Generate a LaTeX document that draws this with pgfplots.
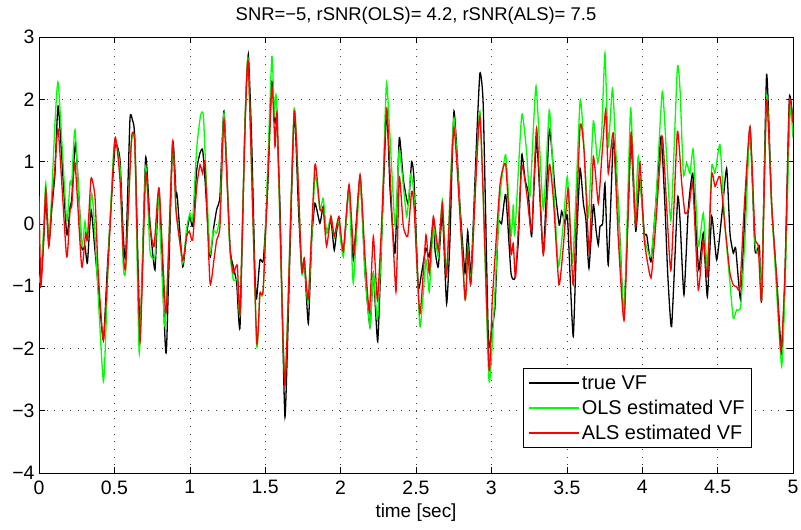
\documentclass[border=0pt]{standalone}
\usepackage{fontspec}
\setmainfont{Liberation Sans}
\usepackage{pgfplots}
\usepackage{pgfplotstable}
\pgfplotsset{compat=1.18}
\pgfplotstableread{
t v
0 -1.05
0.015 -0.85
0.03 -0.3
0.045 0.4
0.065 -0.35
0.085 0.25
0.106 0.81
0.128 1.89
0.183 -0.15
0.206 0.28
0.217 0.39
0.243 1.30
0.283 -0.36
0.305 -0.36
0.321 -0.63
0.345 0.23
0.367 -0.31
0.393 -1.01
0.427 -1.87
0.455 -0.63
0.504 1.24
0.537 1.03
0.559 -0.20
0.575 -0.53
0.603 1.67
0.619 1.67
0.636 1.35
0.670 -1.70
0.707 1.06
0.736 0.01
0.769 -0.74
0.796 0.57
0.836 -1.87
0.847 -1.92
0.886 1.30
0.909 0.47
0.917 0.44
0.953 -0.69
0.979 -0.15
1.001 0.12
1.019 -0.04
1.046 0.87
1.068 1.14
1.085 1.19
1.101 0.71
1.134 -0.53
1.156 -0.10
1.178 0.23
1.200 0.44
1.227 1.81
1.266 -0.36
1.289 -0.69
1.311 -0.95
1.333 -1.65
1.366 1.62
1.388 2.72
1.410 1.35
1.432 -0.79
1.443 -1.20
1.465 -0.58
1.488 -0.58
1.516 0.55
1.543 2.29
1.565 1.62
1.576 1.65
1.598 0.28
1.631 -3.10
1.664 -0.47
1.693 1.81
1.720 0.28
1.742 -0.74
1.759 -0.58
1.786 -1.60
1.808 -0.26
1.830 0.33
1.863 0.01
1.885 0.28
1.907 -0.15
1.936 0.06
1.958 -0.42
1.985 0.06
2.018 -0.47
2.056 0.60
2.084 -0.58
2.129 0.76
2.162 -0.79
2.195 -1.65
2.217 -0.79
2.246 -1.89
2.272 -0.26
2.305 1.83
2.328 0.55
2.361 -0.47
2.389 1.38
2.416 0.71
2.449 0.31
2.471 1.00
2.487 0.71
2.515 -1.01
2.537 -0.79
2.566 -0.39
2.588 -0.53
2.615 0.06
2.626 -0.42
2.648 -0.69
2.675 0.17
2.703 -1.28
2.725 -0.26
2.752 1.81
2.792 0.28
2.825 -0.79
2.843 -0.12
2.865 -0.79
2.902 1.35
2.924 2.42
2.946 1.89
2.980 -1.87
3.002 -1.70
3.024 -1.33
3.046 0.01
3.068 0.01
3.095 0.47
3.130 -0.79
3.156 -0.87
3.179 -0.26
3.201 1.11
3.223 0.71
3.245 0.49
3.267 -0.20
3.300 1.35
3.344 -0.47
3.384 1.51
3.422 0.55
3.450 -0.02
3.466 0.20
3.488 0.01
3.504 0.14
3.521 -0.79
3.543 -1.81
3.565 -0.26
3.588 0.89
3.610 0.33
3.627 0.06
3.647 -0.71
3.676 0.31
3.694 -0.10
3.709 -0.34
3.720 -0.04
3.738 0.01
3.753 0.65
3.775 -0.66
3.809 1.35
3.842 0.28
3.878 -1.49
3.908 0.28
3.926 1.35
3.957 -0.12
3.985 0.71
4.014 -0.15
4.030 -0.18
4.058 -0.61
4.089 0.28
4.125 1.40
4.151 0.28
4.169 -0.79
4.195 -1.65
4.235 0.41
4.251 0.06
4.277 -1.14
4.306 0.25
4.335 0.81
4.361 -0.26
4.376 -0.74
4.405 -0.15
4.432 -1.17
4.461 0.12
4.494 -0.58
4.527 0.12
4.560 0.89
4.582 -0.15
4.604 -0.47
4.620 -0.39
4.653 -1.22
4.682 0.20
4.715 1.54
4.748 -0.42
4.777 -0.36
4.792 -1.22
4.825 2.40
4.859 0.28
4.892 -0.90
4.925 -2.08
4.947 -0.79
4.976 2.02
5.000 1.62
}\trueVF
\pgfplotstableread{
t v
0 -0.95
0.015 -0.7
0.03 -0.1
0.045 0.65
0.065 -0.25
0.085 0.5
0.106 1.62
0.128 2.26
0.183 0.06
0.206 0.68
0.217 0.65
0.239 1.51
0.283 -0.34
0.305 0.04
0.321 -0.26
0.349 0.49
0.367 0.01
0.427 -2.53
0.460 -0.53
0.499 1.30
0.537 0.92
0.559 -0.69
0.575 -0.74
0.610 1.24
0.636 1.30
0.665 -2.08
0.707 0.92
0.736 -0.44
0.769 -0.53
0.791 0.49
0.836 -1.65
0.886 1.24
0.909 0.23
0.953 -0.63
0.979 -0.07
1.001 0.17
1.019 0.06
1.046 1.22
1.072 1.75
1.090 1.75
1.107 0.81
1.134 -0.47
1.156 -0.10
1.178 -0.15
1.200 0.17
1.227 1.78
1.266 -0.42
1.289 -0.90
1.315 -0.90
1.333 -1.44
1.366 1.56
1.388 2.61
1.443 -1.92
1.465 -1.11
1.488 -1.01
1.543 2.66
1.560 1.73
1.576 1.97
1.631 -2.51
1.693 1.86
1.742 -0.77
1.759 -0.58
1.786 -1.28
1.830 0.76
1.863 0.23
1.885 0.41
1.907 -0.15
1.936 0.12
1.958 -0.23
1.985 0.06
2.018 -0.53
2.056 0.55
2.084 -0.95
2.129 0.68
2.162 -0.79
2.195 -1.65
2.217 -0.79
2.244 -1.54
2.272 -0.26
2.305 2.26
2.361 -0.04
2.389 1.19
2.438 0.12
2.465 0.79
2.487 0.44
2.526 -1.65
2.566 -0.58
2.588 -1.09
2.615 -0.04
2.648 -0.53
2.675 0.39
2.703 -0.79
2.752 1.70
2.825 -1.20
2.843 -0.36
2.865 -0.90
2.924 1.81
2.984 -2.51
3.024 -1.06
3.057 0.44
3.095 1.11
3.130 -0.20
3.145 0.31
3.156 -0.15
3.201 1.75
3.234 1.14
3.256 0.44
3.296 2.21
3.344 0.23
3.384 1.83
3.411 0.71
3.444 -0.69
3.477 0.01
3.504 0.76
3.539 -0.63
3.588 1.97
3.614 1.24
3.643 0.12
3.676 1.65
3.705 0.98
3.731 1.46
3.753 2.74
3.775 1.24
3.804 2.18
3.842 0.28
3.880 -1.44
3.923 1.86
3.952 0.06
3.974 1.08
4.014 -0.20
4.058 -0.53
4.089 0.28
4.133 2.13
4.162 1.08
4.191 0.06
4.233 2.50
4.251 2.15
4.273 0.79
4.295 0.98
4.317 0.81
4.339 1.19
4.372 -0.36
4.405 0.17
4.432 -0.69
4.461 0.92
4.483 0.81
4.516 1.27
4.549 -0.04
4.582 -0.95
4.604 -1.52
4.626 -1.38
4.653 -1.33
4.682 -0.20
4.715 1.54
4.748 -0.31
4.777 -0.53
4.792 -1.17
4.825 2.07
4.859 0.28
4.892 -1.11
4.925 -2.29
4.947 -1.06
4.980 1.83
5.000 1.38
}\olsVF
\pgfplotstableread{
t v
0 0.45
0.012 -1.0
0.03 -0.3
0.045 0.55
0.065 -0.35
0.085 0.3
0.106 0.92
0.128 1.51
0.183 -0.53
0.206 0.23
0.217 0.28
0.239 0.98
0.283 -0.69
0.309 -0.15
0.321 -0.26
0.345 0.73
0.371 0.44
0.393 -0.79
0.427 -1.87
0.460 -0.58
0.504 1.38
0.537 0.71
0.559 -0.47
0.575 -0.69
0.614 1.38
0.636 1.24
0.670 -1.89
0.707 0.81
0.736 -0.04
0.763 -0.36
0.796 0.57
0.836 -1.30
0.847 -1.28
0.886 1.32
0.909 0.20
0.953 -0.58
0.979 -0.20
0.997 -0.12
1.019 -0.26
1.046 0.60
1.068 0.95
1.085 0.81
1.101 0.98
1.134 -0.95
1.160 -0.58
1.178 -0.26
1.200 -0.04
1.227 1.67
1.266 -0.36
1.289 -0.79
1.315 -0.66
1.333 -1.44
1.366 1.51
1.388 2.58
1.443 -1.87
1.465 -1.11
1.488 -1.01
1.543 2.18
1.565 1.24
1.580 1.73
1.631 -2.59
1.693 1.81
1.742 -0.74
1.759 -0.55
1.786 -1.20
1.830 0.95
1.863 0.23
1.885 0.23
1.907 -0.36
1.936 0.12
1.958 -0.20
1.989 0.12
2.018 -0.44
2.056 0.63
2.089 -0.47
2.129 0.79
2.162 -0.53
2.191 -1.41
2.217 -0.20
2.244 -1.22
2.272 0.01
2.305 1.86
2.328 0.81
2.367 -1.09
2.389 0.76
2.416 -0.04
2.445 -0.20
2.471 0.52
2.487 0.28
2.526 -1.44
2.566 -0.18
2.588 -0.79
2.615 0.12
2.648 -0.42
2.675 0.33
2.703 -0.85
2.752 1.54
2.825 -1.20
2.843 -0.42
2.865 -0.95
2.924 1.73
2.984 -2.32
3.006 -1.22
3.057 0.63
3.095 0.95
3.130 -0.47
3.145 -0.31
3.161 -0.85
3.201 0.92
3.234 0.49
3.267 -0.12
3.300 1.54
3.344 -0.50
3.384 0.95
3.411 0.39
3.448 -0.98
3.477 -0.36
3.510 0.57
3.543 -0.98
3.588 1.56
3.614 1.19
3.649 -0.47
3.676 1.08
3.709 0.33
3.731 1.03
3.758 1.83
3.775 0.81
3.808 1.46
3.842 -0.26
3.881 -1.54
3.926 1.46
3.957 -0.04
3.985 0.98
4.014 -0.26
4.058 -0.87
4.089 -0.04
4.133 1.40
4.162 0.28
4.191 -0.74
4.233 1.48
4.262 0.65
4.284 0.17
4.310 0.25
4.335 0.65
4.372 -1.06
4.405 -0.26
4.432 -0.85
4.461 0.79
4.483 0.60
4.516 0.76
4.549 -0.04
4.582 -0.79
4.604 -0.98
4.626 -1.01
4.648 -1.03
4.675 0.20
4.715 1.56
4.748 -0.20
4.770 -0.36
4.792 -1.22
4.825 1.99
4.859 0.28
4.892 -0.90
4.920 -2.05
4.947 -0.79
4.976 1.97
5.000 1.62
}\alsVF
\begin{document}
\begin{tikzpicture}
\useasboundingbox (-39bp,-57bp) rectangle (762bp,473bp);
\begin{axis}[
  at={(0,0)}, anchor=south west,
  scale only axis, width=754bp, height=436bp,
  xmin=0, xmax=5, ymin=-4, ymax=3,
  xtick={0,0.5,1,1.5,2,2.5,3,3.5,4,4.5,5},
  xticklabels={0,0.5,1,1.5,2,2.5,3,3.5,4,4.5,5},
  ytick={-4,-3,-2,-1,0,1,2,3},
  yticklabels={−4,−3,−2,−1,0,1,2,3},
  xtick pos=both, ytick pos=both,
  tick align=inside, major tick length=6bp,
  tick style={black, line width=0.6bp},
  axis line style={black, line width=0.8bp},
  grid=major,
  grid style={black!75, line width=0.6bp, dash pattern=on 0.8bp off 6.9bp},
  ticklabel style={font=\fontsize{19.5}{21}\selectfont},
  xticklabel style={yshift=-4bp},
  yticklabel style={xshift=-1bp},
  title={SNR=−5, rSNR(OLS)= 4.2, rSNR(ALS)= 7.5},
  title style={font=\fontsize{18.5}{20}\selectfont, at={(0.5,1)}, anchor=south, yshift=3bp},
  xlabel={time [sec]},
  xlabel style={font=\fontsize{19}{21}\selectfont, at={(axis description cs:0.5,0)}, anchor=center, yshift=-40bp},
  legend style={at={(0.9456,0.0573)}, anchor=south east, draw=black, line width=0.8bp, fill=white,
    font=\fontsize{20}{22}\selectfont, inner xsep=5bp, inner ysep=5bp, row sep=5bp,
    cells={anchor=west}},
  legend image code/.code={\draw[#1, line width=1.8bp] (0bp,0bp) -- (50bp,0bp);},
  legend cell align=left,
]
\addplot[color=black, line width=1.3bp, smooth, tension=0.3] table[x=t,y=v] {\trueVF};
\addplot[color=green, line width=1.3bp, smooth, tension=0.3] table[x=t,y=v] {\olsVF};
\addplot[color=red, line width=1.3bp, smooth, tension=0.3] table[x=t,y=v] {\alsVF};
\legend{true VF, OLS estimated VF, ALS estimated VF}
\end{axis}
\end{tikzpicture}
\end{document}
